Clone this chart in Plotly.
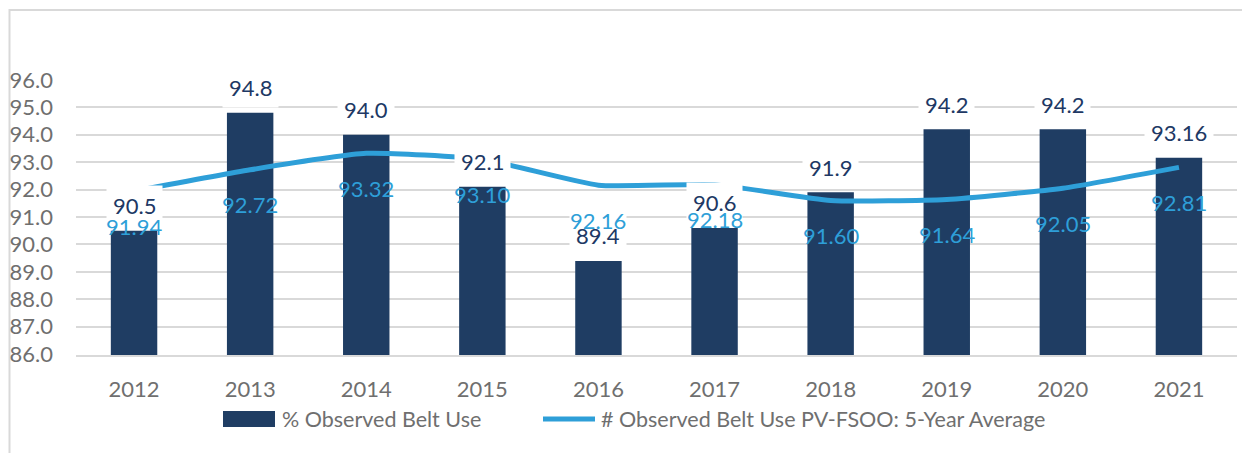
import plotly.graph_objects as go

years = [2012, 2013, 2014, 2015, 2016, 2017, 2018, 2019, 2020, 2021]
belt_use = [90.5, 94.8, 94.0, 92.1, 89.4, 90.6, 91.9, 94.2, 94.2, 93.16]
belt_use_labels = ["90.5", "94.8", "94.0", "92.1", "89.4", "90.6", "91.9", "94.2", "94.2", "93.16"]
five_year_avg = [91.94, 92.72, 93.32, 93.10, 92.16, 92.18, 91.60, 91.64, 92.05, 92.81]
y_ticks = [86, 87, 88, 89, 90, 91, 92, 93, 94, 95, 96]
bar_name = "% Observed Belt Use"
line_name = "# Observed Belt Use PV-FSOO: 5-Year Average"

BAR_COLOR = "#1F3D63"
LINE_COLOR = "#2E9FD8"
LABEL_DARK = "#203864"
TICK_COLOR = "#6F6F6F"
GRID = "#D9D9D9"
FONT = "Lato"

# page body margin offset (default html body margin)
OFF = 8
W, H = 1250, 453
# plot area in screen pixels: x 76..1237, y 80..355
SL, SR, ST, SB = 76, 1237, 79, 355
L = SL - OFF
T = ST - OFF
R = W - (SR - OFF)
B = H - (SB - OFF)
pw = W - L - R
ph = H - T - B


def px_x(x):
    return (x - OFF - L) / pw


def px_y(y):
    return (H - B - (y - OFF)) / ph


fig = go.Figure()
fig.add_trace(go.Bar(x=years, y=belt_use, width=0.4, marker=dict(color=BAR_COLOR, line=dict(width=0)),
                     name=bar_name, showlegend=False))
fig.add_trace(go.Scatter(x=years, y=five_year_avg, mode="lines",
                         line=dict(color=LINE_COLOR, width=5, shape="spline", smoothing=0.5),
                         name=line_name, showlegend=False))

annotations = []
for x, v, t in zip(years, belt_use, belt_use_labels):
    annotations.append(dict(x=x, y=v, xref="x", yref="y", text=t, showarrow=False,
                            yanchor="middle", yshift=25, bgcolor="white", borderpad=6,
                            font=dict(family=FONT, size=22, color=LABEL_DARK)))
for x, v in zip(years, five_year_avg):
    annotations.append(dict(x=x, y=v, xref="x", yref="y", text=f"{v:.2f}", showarrow=False,
                            yanchor="middle", yshift=-35,
                            font=dict(family=FONT, size=22, color=LINE_COLOR)))
# legend texts
annotations.append(dict(x=px_x(280), y=px_y(419), xref="paper", yref="paper", text=bar_name,
                        showarrow=False, xanchor="left", yanchor="middle",
                        font=dict(family=FONT, size=21.5, color=TICK_COLOR)))
annotations.append(dict(x=px_x(599), y=px_y(419), xref="paper", yref="paper", text=line_name,
                        showarrow=False, xanchor="left", yanchor="middle",
                        font=dict(family=FONT, size=21.5, color=TICK_COLOR)))

shapes = [
    dict(type="rect", xref="paper", yref="paper", x0=px_x(9.5), x1=px_x(1300), y0=px_y(10), y1=px_y(520),
         line=dict(color=GRID, width=2), fillcolor="rgba(0,0,0,0)", layer="below"),
    dict(type="rect", xref="paper", yref="paper", x0=px_x(223), x1=px_x(275), y0=px_y(411), y1=px_y(427),
         line=dict(width=0), fillcolor=BAR_COLOR),
    dict(type="line", xref="paper", yref="paper", x0=px_x(543), x1=px_x(595), y0=px_y(419), y1=px_y(419),
         line=dict(color=LINE_COLOR, width=5)),
]

fig.update_layout(
    width=W, height=H,
    margin=dict(l=L, r=R, t=T, b=B, autoexpand=False),
    paper_bgcolor="white", plot_bgcolor="white",
    annotations=annotations, shapes=shapes,
    showlegend=False,
    xaxis=dict(range=[2011.5, 2021.5], tickvals=years, ticktext=[str(y) for y in years],
               showgrid=False, showline=True, linecolor=GRID, linewidth=2, zeroline=False,
               automargin=False,
               ticks="", tickfont=dict(family=FONT, size=22, color=TICK_COLOR), ticklabelstandoff=14),
    yaxis=dict(range=[85.97, 96.03], tickvals=y_ticks, ticktext=[f"{v:.1f}" for v in y_ticks],
               showgrid=True, gridcolor=GRID, gridwidth=2, zeroline=False, showline=False,
               automargin=False,
               ticks="", tickfont=dict(family=FONT, size=22, color=TICK_COLOR), ticklabelstandoff=22),
)

fig.write_html("out.html")
